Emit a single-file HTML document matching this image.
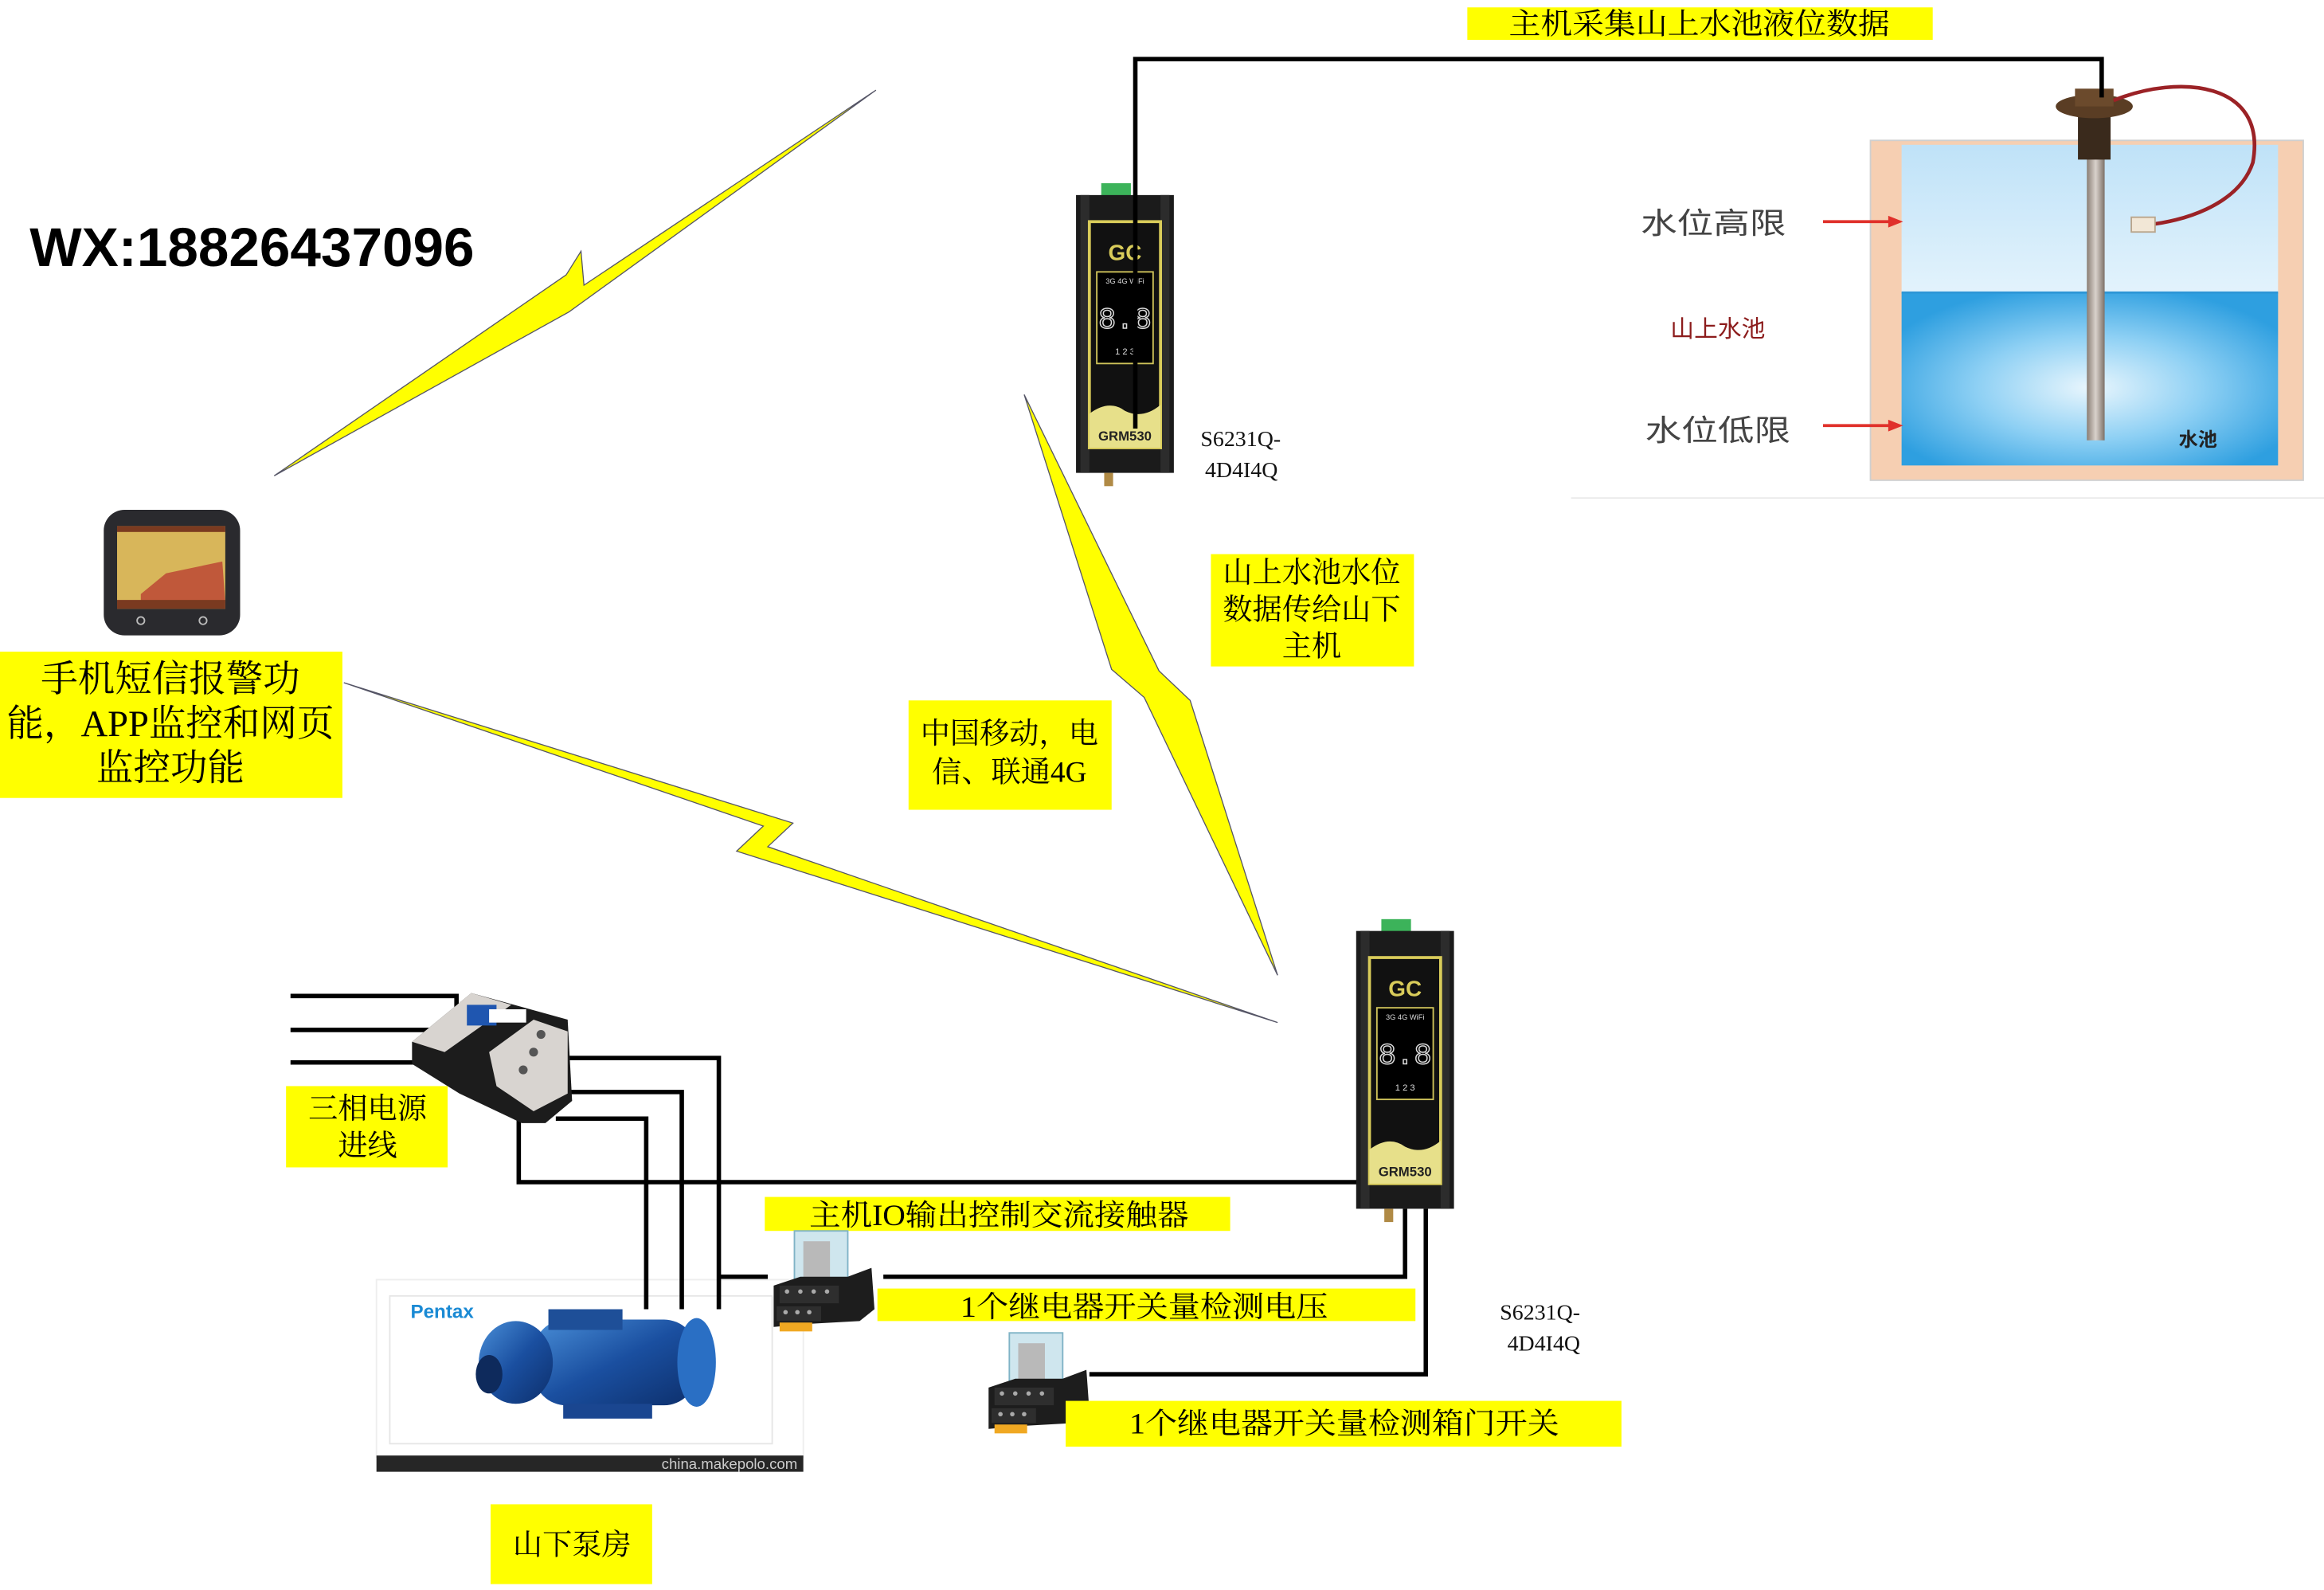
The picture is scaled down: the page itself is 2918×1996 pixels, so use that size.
<!DOCTYPE html>
<html><head><meta charset="utf-8">
<style>
html,body{margin:0;padding:0;background:#fff;}
svg{display:block;}
.cn{font-family:"Liberation Serif","Noto Serif CJK SC",serif;fill:#000;}
.sr{font-family:"Liberation Serif","Noto Serif CJK SC",serif;fill:#111;}
</style></head>
<body>
<svg width="2918" height="1996" viewBox="0 0 1568 1076" preserveAspectRatio="none" xmlns="http://www.w3.org/2000/svg">
<defs>
<linearGradient id="rod" x1="0" x2="1"><stop offset="0" stop-color="#8a7e74"/><stop offset="0.5" stop-color="#d9d2cc"/><stop offset="1" stop-color="#7d7168"/></linearGradient>
<radialGradient id="water" cx="0.5" cy="0.55" r="0.6"><stop offset="0" stop-color="#e9f6fd"/><stop offset="0.5" stop-color="#8ed0f4"/><stop offset="1" stop-color="#2e9fe0"/></radialGradient>
<linearGradient id="air" x1="0" y1="0" x2="0" y2="1"><stop offset="0" stop-color="#bfe2f8"/><stop offset="1" stop-color="#e3f3fc"/></linearGradient>
<linearGradient id="pump" x1="0" y1="0" x2="1" y2="1"><stop offset="0" stop-color="#4a8fd8"/><stop offset="0.5" stop-color="#1a4fa0"/><stop offset="1" stop-color="#0d2f6b"/></linearGradient>
<g id="dev">
  <rect x="17" y="-8" width="20" height="12" fill="#3cb35a"/>
  <rect x="0" y="0" width="66" height="188" fill="#1b1b1b"/>
  <rect x="3" y="0" width="6" height="188" fill="#2c2c2c"/>
  <rect x="57" y="0" width="6" height="188" fill="#2c2c2c"/>
  <rect x="9" y="18" width="48" height="153" fill="#111" stroke="#d9cc5a" stroke-width="2"/>
  <text x="33" y="44" font-family="Liberation Sans,sans-serif" font-weight="bold" font-size="15" fill="#d9cc5a" text-anchor="middle">GC</text>
  <rect x="14" y="52" width="38" height="62" fill="#000" stroke="#cfc35a" stroke-width="1"/>
  <text x="33" y="60" font-family="Liberation Sans,sans-serif" font-size="5" fill="#ddd" text-anchor="middle">3G 4G WiFi</text>
  <text x="33" y="90" font-family="Liberation Mono,monospace" font-size="20" fill="none" stroke="#ddd" stroke-width="0.8" text-anchor="middle">8.8</text>
  <text x="33" y="108" font-family="Liberation Sans,sans-serif" font-size="6" fill="#ddd" text-anchor="middle">1 2 3</text>
  <path d="M9 148 Q22 138 33 146 Q45 152 57 142 L57 171 L9 171Z" fill="#e7e08a"/>
  <text x="33" y="166" font-family="Liberation Sans,sans-serif" font-weight="bold" font-size="9" fill="#222" text-anchor="middle">GRM530</text>
  <rect x="19" y="188" width="6" height="9" fill="#b08a45"/>
</g>
<g id="relay">
  <rect x="16" y="-29" width="36" height="35" fill="#cfe6ee" stroke="#7fb3c6" stroke-width="1"/>
  <rect x="22" y="-22" width="18" height="26" fill="#b9b9b9"/>
  <path d="M2 8 L20 2 L52 2 L68 -4 L70 24 L60 32 L24 34 L2 36Z" fill="#1d1d1d"/>
  <rect x="6" y="8" width="40" height="12" fill="#2e2e2e"/>
  <circle cx="11" cy="12" r="1.5" fill="#aaa"/><circle cx="20" cy="12" r="1.5" fill="#aaa"/><circle cx="29" cy="12" r="1.5" fill="#aaa"/><circle cx="38" cy="12" r="1.5" fill="#aaa"/>
  <rect x="4" y="22" width="30" height="10" fill="#2e2e2e"/>
  <circle cx="10" cy="26" r="1.5" fill="#aaa"/><circle cx="18" cy="26" r="1.5" fill="#aaa"/><circle cx="26" cy="26" r="1.5" fill="#aaa"/>
  <rect x="6" y="33" width="22" height="6" fill="#f0a822"/>
</g>
</defs>

<!-- top label -->
<rect x="990" y="5" width="314" height="22" fill="#ffff00"/>
<text class="cn" x="1018" y="23" font-size="20" textLength="257" lengthAdjust="spacingAndGlyphs">主机采集山上水池液位数据</text>

<!-- tank -->
<line x1="1060" y1="337" x2="1568" y2="337" stroke="#eaeaea" stroke-width="1"/>
<rect x="1262" y="95" width="292" height="230" fill="#f6cfb2" stroke="#cfcfcf"/>
<rect x="1283" y="98" width="254" height="101" fill="url(#air)"/>
<rect x="1283" y="198" width="254" height="117" fill="url(#water)"/>
<line x1="1283" y1="198" x2="1537" y2="198" stroke="#2d96d6" stroke-width="1.5"/>
<rect x="1408" y="105" width="12" height="193" fill="url(#rod)"/>
<rect x="1402" y="78" width="22" height="30" fill="#3a2a1c"/>
<ellipse cx="1413" cy="72" rx="26" ry="8" fill="#5a3d24"/>
<rect x="1400" y="60" width="26" height="12" fill="#6b4a2c"/>
<path d="M1426 68 C1470 50 1530 55 1520 110 C1510 140 1470 150 1450 152" fill="none" stroke="#9b2226" stroke-width="2.5"/>
<rect x="1438" y="147" width="16" height="10" fill="#f2e7d6" stroke="#b9a58c"/>
<text x="1107" y="158" font-family="Liberation Sans,'Noto Sans CJK SC',sans-serif" font-size="20" fill="#444" textLength="98" lengthAdjust="spacingAndGlyphs">水位高限</text>
<line x1="1230" y1="150" x2="1278" y2="150" stroke="#e0302a" stroke-width="2"/>
<path d="M1284 150 L1274 146 L1274 154Z" fill="#e0302a"/>
<text x="1127" y="228" font-family="Liberation Sans,'Noto Sans CJK SC',sans-serif" font-size="16" fill="#8c1c1c">山上水池</text>
<text x="1110" y="298" font-family="Liberation Sans,'Noto Sans CJK SC',sans-serif" font-size="20" fill="#444" textLength="98" lengthAdjust="spacingAndGlyphs">水位低限</text>
<line x1="1230" y1="288" x2="1278" y2="288" stroke="#e0302a" stroke-width="2"/>
<path d="M1284 288 L1274 284 L1274 292Z" fill="#e0302a"/>
<text x="1470" y="302" font-family="Liberation Sans,'Noto Sans CJK SC',sans-serif" font-size="13" fill="#222" font-weight="bold">水池</text>

<!-- device 1 -->
<use href="#dev" x="726" y="132"/>
<polyline points="766,290 766,40 1418,40 1418,66" fill="none" stroke="#000" stroke-width="3"/>
<text class="sr" x="810" y="302" font-size="15">S6231Q-</text>
<text class="sr" x="813" y="323" font-size="15">4D4I4Q</text>

<!-- WX -->
<text x="20" y="180" font-family="Liberation Sans,sans-serif" font-weight="bold" font-size="37" fill="#000" textLength="300" lengthAdjust="spacingAndGlyphs">WX:18826437096</text>

<!-- lightning -->
<polygon points="185,322 382,186 392,170 394,193 591,61 384,211" fill="#ffff00" stroke="#556" stroke-width="0.7"/>
<polygon points="232,462 535,557 518,573 862,692 497,576 515,559" fill="#ffff00" stroke="#556" stroke-width="0.7"/>
<polygon points="691,267 782,454 803,474 862,660 772,472 750,453" fill="#ffff00" stroke="#556" stroke-width="0.7"/>

<!-- phone -->
<rect x="70" y="345" width="92" height="85" rx="14" fill="#2a2a2e"/>
<rect x="79" y="356" width="73" height="56" fill="#d8b65a"/>
<rect x="79" y="356" width="73" height="4" fill="#7a3a20"/>
<path d="M95 402 L112 388 L150 380 L152 408 L95 408Z" fill="#c0583a"/>
<rect x="79" y="406" width="73" height="6" fill="#7a3a20"/>
<circle cx="95" cy="420" r="2.5" fill="none" stroke="#bbb"/><circle cx="137" cy="420" r="2.5" fill="none" stroke="#bbb"/>

<!-- yellow boxes -->
<rect x="0" y="441" width="231" height="99" fill="#ffff00"/>
<text class="cn" x="115" y="468" font-size="25" text-anchor="middle">手机短信报警功</text>
<text class="cn" x="115" y="498" font-size="25" text-anchor="middle">能，APP监控和网页</text>
<text class="cn" x="115" y="528" font-size="25" text-anchor="middle">监控功能</text>

<rect x="817" y="375" width="137" height="76" fill="#ffff00"/>
<text class="cn" x="885" y="394" font-size="20" text-anchor="middle">山上水池水位</text>
<text class="cn" x="885" y="419" font-size="20" text-anchor="middle">数据传给山下</text>
<text class="cn" x="885" y="444" font-size="20" text-anchor="middle">主机</text>

<rect x="613" y="474" width="137" height="74" fill="#ffff00"/>
<text class="cn" x="681" y="503" font-size="20" text-anchor="middle">中国移动，电</text>
<text class="cn" x="681" y="529" font-size="20" text-anchor="middle">信、联通4G</text>

<!-- pump (drawn before wires) -->
<rect x="254" y="866" width="288" height="120" fill="#fff" stroke="#eee"/>
<rect x="263" y="877" width="258" height="100" fill="#fff" stroke="#e6e6e6"/>
<rect x="254" y="985" width="288" height="11" fill="#262626"/>
<text x="538" y="994" font-family="Liberation Sans,sans-serif" font-size="10" fill="#ccc" text-anchor="end">china.makepolo.com</text>
<text x="277" y="892" font-family="Liberation Sans,sans-serif" font-weight="bold" font-size="13" fill="#1a8ad4">Pentax</text>
<rect x="360" y="893" width="110" height="58" rx="22" fill="url(#pump)"/>
<ellipse cx="470" cy="922" rx="13" ry="30" fill="#2a6fc4"/>
<ellipse cx="348" cy="922" rx="25" ry="28" fill="url(#pump)"/>
<ellipse cx="330" cy="930" rx="9" ry="13" fill="#0e2a5c"/>
<rect x="370" y="886" width="50" height="14" fill="#1e4f98"/>
<rect x="380" y="950" width="60" height="10" fill="#1a4690"/>

<!-- wires -->
<g fill="none" stroke="#000" stroke-width="3">
<polyline points="196,674 308,674 308,688"/>
<line x1="196" y1="697" x2="300" y2="697"/>
<line x1="196" y1="719" x2="290" y2="719"/>
<polyline points="380,716 485,716 485,886"/>
<polyline points="383,739 460,739 460,886"/>
<polyline points="375,757 436,757 436,886"/>
<polyline points="350,758 350,800 917,800"/>
<line x1="485" y1="864" x2="518" y2="864"/>
<polyline points="596,864 948,864 948,818"/>
<polyline points="735,930 962,930 962,818"/>
</g>

<!-- contactor -->
<path d="M278 705 L318 672 L383 690 L386 745 L368 760 L352 760 L310 740 L278 720Z" fill="#1c1c1c"/>
<path d="M278 705 L318 672 L345 680 L300 712Z" fill="#d8d4d0"/>
<path d="M330 712 L360 690 L383 698 L383 740 L360 752 L335 735Z" fill="#d8d4d0"/>
<rect x="315" y="680" width="20" height="14" fill="#1f56b0"/>
<rect x="330" y="683" width="25" height="9" fill="#fff"/>
<circle cx="365" cy="700" r="3" fill="#555"/><circle cx="360" cy="712" r="3" fill="#555"/><circle cx="353" cy="724" r="3" fill="#555"/>

<!-- device 2 -->
<use href="#dev" x="915" y="630"/>

<rect x="193" y="735" width="109" height="55" fill="#ffff00"/>
<text class="cn" x="248" y="757" font-size="20" text-anchor="middle">三相电源</text>
<text class="cn" x="248" y="782" font-size="20" text-anchor="middle">进线</text>

<rect x="516" y="810" width="314" height="23" fill="#ffff00"/>
<text class="cn" x="546" y="829" font-size="20" textLength="256" lengthAdjust="spacingAndGlyphs">主机IO输出控制交流接触器</text>

<use href="#relay" x="520" y="862"/>
<use href="#relay" x="665" y="931"/>

<rect x="592" y="872" width="363" height="22" fill="#ffff00"/>
<text class="cn" x="648" y="891" font-size="20" textLength="248" lengthAdjust="spacingAndGlyphs">1个继电器开关量检测电压</text>

<rect x="719" y="948" width="375" height="31" fill="#ffff00"/>
<text class="cn" x="762" y="970" font-size="20" textLength="290" lengthAdjust="spacingAndGlyphs">1个继电器开关量检测箱门开关</text>

<text class="sr" x="1012" y="893" font-size="15">S6231Q-</text>
<text class="sr" x="1017" y="914" font-size="15">4D4I4Q</text>

<rect x="331" y="1018" width="109" height="54" fill="#ffff00"/>
<text class="cn" x="386" y="1052" font-size="20" text-anchor="middle">山下泵房</text>
</svg>
</body></html>
